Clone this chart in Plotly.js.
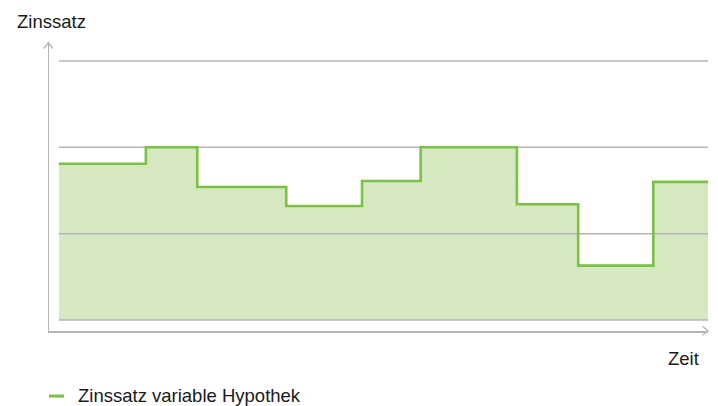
<!DOCTYPE html>
<html>
<head>
<meta charset="utf-8">
<script src="https://cdn.plot.ly/plotly-3.0.1.min.js"></script>
<style>
  html, body { margin: 0; padding: 0; background: #ffffff; }
  #chart { width: 718px; height: 406px; }
</style>
</head>
<body>
<div id="chart"></div>
<script>
// Data (time position of each rate change, and the rate level from that point on)
var zeit = [1.5, 14.7, 22.5, 36.0, 47.5, 56.4, 71.0, 80.3, 91.7, 100];
var zinssatz = [1.81, 2.0, 1.54, 1.32, 1.61, 2.0, 1.34, 0.63, 1.60, 1.60];
var gridLevels = [0, 1, 2, 3];
var seriesName = 'Zinssatz variable Hypothek';
var yTitle = 'Zinssatz';
var xTitle = 'Zeit';

var green = '#7bc143';
var fillGreen = '#d5e8c1';
var gray = '#b4b4b4';
var textColor = '#1a1a1a';
var fontFam = '"Liberation Sans", Arial, Helvetica, sans-serif';

var traces = [];
// area under the step line
traces.push({
  type: 'scatter', mode: 'lines',
  x: zeit, y: zinssatz,
  line: { shape: 'hv', width: 0, color: fillGreen },
  fill: 'tozeroy', fillcolor: fillGreen,
  hoverinfo: 'skip', showlegend: false
});
// horizontal grid lines (drawn over the area, under the step line)
gridLevels.forEach(function (g) {
  traces.push({
    type: 'scatter', mode: 'lines',
    x: [zeit[0], zeit[zeit.length - 1]], y: [g, g],
    line: { color: gray, width: 1.5 },
    hoverinfo: 'skip', showlegend: false
  });
});
// step line
traces.push({
  type: 'scatter', mode: 'lines',
  x: zeit, y: zinssatz, name: seriesName,
  line: { shape: 'hv', color: green, width: 2.6 },
  hoverinfo: 'skip', showlegend: false
});

var shapes = [];
// arrow heads of the axes
shapes.push({
  type: 'path', xref: 'paper', yref: 'paper',
  xsizemode: 'pixel', ysizemode: 'pixel', xanchor: 0, yanchor: 1,
  path: 'M -5.2,-5.5 L -0.75,0.5 L 3.7,-5.5',
  line: { color: gray, width: 1.3 }
});
shapes.push({
  type: 'path', xref: 'paper', yref: 'paper',
  xsizemode: 'pixel', ysizemode: 'pixel', xanchor: 1, yanchor: 0,
  path: 'M -5.5,4.8 L 0,0.25 L -5.5,-4.3',
  line: { color: gray, width: 1.3 }
});
// legend marker
shapes.push({
  type: 'line', xref: 'paper', yref: 'paper',
  x0: 0, x1: 15 / 659, y0: -0.226, y1: -0.226,
  line: { color: green, width: 3 }
});

var layout = {
  width: 718,
  height: 406,
  margin: { l: 49, r: 10, t: 43, b: 75, pad: 0 },
  paper_bgcolor: '#ffffff',
  plot_bgcolor: '#ffffff',
  showlegend: false,
  font: { family: fontFam, color: textColor, size: 18 },
  xaxis: {
    range: [0, 100],
    showgrid: false, zeroline: false, showticklabels: false, ticks: '',
    showline: true, linecolor: gray, linewidth: 1.5, fixedrange: true
  },
  yaxis: {
    range: [-0.127, 3.208],
    showgrid: false, zeroline: false, showticklabels: false, ticks: '',
    showline: true, linecolor: gray, linewidth: 1.5, fixedrange: true
  },
  shapes: shapes,
  annotations: [
    {
      text: yTitle, xref: 'paper', yref: 'paper',
      x: (15 - 49) / 659, y: (331 - 21) / 288,
      xanchor: 'left', yanchor: 'middle', showarrow: false,
      font: { family: fontFam, size: 18.5, color: textColor }
    },
    {
      text: xTitle, xref: 'paper', yref: 'paper',
      x: (701 - 49) / 659, y: (331 - 358) / 288,
      xanchor: 'right', yanchor: 'middle', showarrow: false,
      font: { family: fontFam, size: 18.5, color: textColor }
    },
    {
      text: seriesName, xref: 'paper', yref: 'paper',
      x: (76 - 49) / 659, y: (331 - 395) / 288,
      xanchor: 'left', yanchor: 'middle', showarrow: false,
      font: { family: fontFam, size: 18.5, color: textColor }
    }
  ]
};

Plotly.newPlot('chart', traces, layout, { displayModeBar: false, staticPlot: true });
</script>
</body>
</html>
